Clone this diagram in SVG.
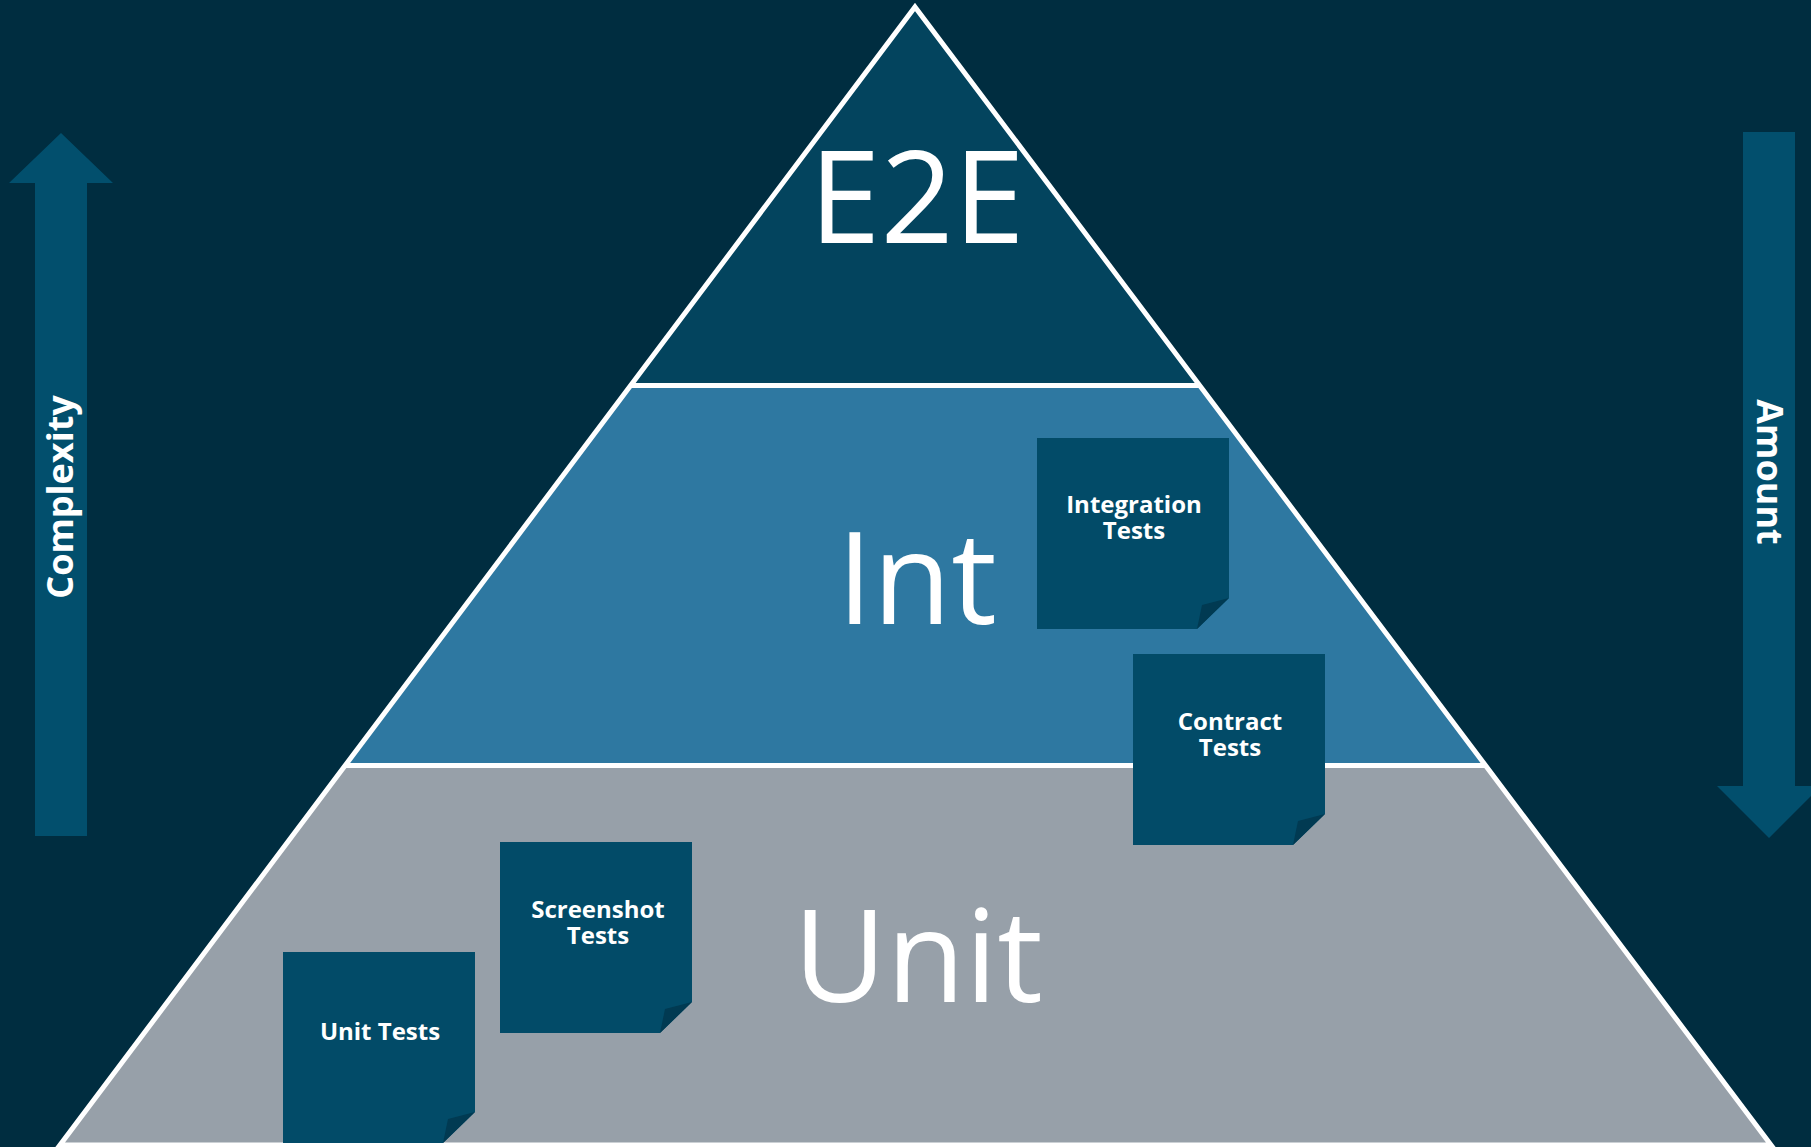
<svg xmlns="http://www.w3.org/2000/svg" width="1811" height="1147" viewBox="0 0 1811 1147">
  <style>
    .tier { stroke: none; }
    .edge { fill: none; stroke: #ffffff; stroke-width: 5; stroke-linejoin: miter; }
    .big { font-family: "Open Sans", "Liberation Sans", sans-serif; font-size: 128px; fill: #ffffff; text-anchor: middle; }
    .axis { font-family: "Open Sans", "Liberation Sans", sans-serif; font-weight: bold; font-size: 36px; fill: #ffffff; text-anchor: middle; }
    .card { fill: #024b68; }
    .fold { fill: #013a52; }
    .note { font-family: "Open Sans", "Liberation Sans", sans-serif; font-weight: bold; font-size: 24px; fill: #ffffff; text-anchor: middle; }
    .arrow { fill: #024f6d; }
  </style>

  <rect x="0" y="0" width="1811" height="1147" fill="#002d40"/>

  <!-- side arrows -->
  <g id="complexity-axis">
    <polygon class="arrow" points="61,133 113,183 87,183 87,836 35,836 35,183 9,183"/>
    <text class="axis" transform="translate(73,497) rotate(-90)" x="0" y="0">Complexity</text>
  </g>
  <g id="amount-axis">
    <polygon class="arrow" points="1743,132 1795,132 1795,786 1821,786 1769,838 1717,786 1743,786"/>
    <text class="axis" transform="translate(1757,472) rotate(90)" x="0" y="0">Amount</text>
  </g>

  <!-- pyramid tiers -->
  <g id="tier-unit">
    <polygon class="tier" fill="#97a0a9" points="345.5,765.5 1485.5,765.5 1771,1145 60,1145"/>
    <text class="big" x="918" y="1002">Unit</text>
  </g>
  <g id="tier-int">
    <polygon class="tier" fill="#2e78a1" points="630.5,385.5 1199.5,385.5 1485.5,765.5 345.5,765.5"/>
    <text class="big" x="917" y="624">Int</text>
  </g>
  <g id="tier-e2e">
    <polygon class="tier" fill="#03445e" points="915,7 1199.5,385.5 630.5,385.5"/>
    <text class="big" x="917" y="243">E2E</text>
  </g>

  <!-- outline and tier dividers -->
  <g id="connectors">
    <polygon class="edge" points="915,7 1771,1145 60,1145"/>
    <line class="edge" x1="630.5" y1="385.5" x2="1199.5" y2="385.5"/>
    <line class="edge" x1="345.5" y1="765.5" x2="1485.5" y2="765.5"/>
  </g>

  <!-- sticky notes -->
  <g id="note-integration">
    <polygon class="card" points="1037,438 1229,438 1229,598 1197,629 1037,629"/>
    <polygon class="fold" points="1229,598 1202,605 1197,629"/>
    <text class="note" x="1134" y="513">Integration<tspan x="1134" dy="26">Tests</tspan></text>
  </g>
  <g id="note-contract">
    <polygon class="card" points="1133,654 1325,654 1325,814 1293,845 1133,845"/>
    <polygon class="fold" points="1325,814 1298,821 1293,845"/>
    <text class="note" x="1230" y="730">Contract<tspan x="1230" dy="26">Tests</tspan></text>
  </g>
  <g id="note-screenshot">
    <polygon class="card" points="500,842 692,842 692,1002 660,1033 500,1033"/>
    <polygon class="fold" points="692,1002 665,1009 660,1033"/>
    <text class="note" x="598" y="918">Screenshot<tspan x="598" dy="26">Tests</tspan></text>
  </g>
  <g id="note-unit">
    <polygon class="card" points="283,952 475,952 475,1112 443,1143 283,1143"/>
    <polygon class="fold" points="475,1112 448,1119 443,1143"/>
    <text class="note" x="380" y="1040">Unit Tests</text>
  </g>
</svg>
